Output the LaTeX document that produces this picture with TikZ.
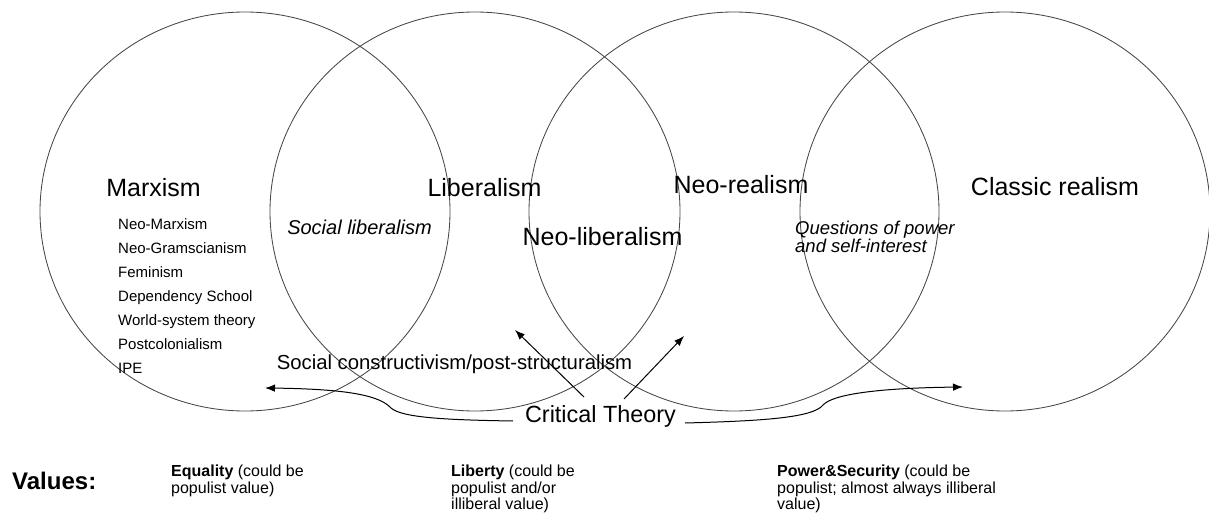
\documentclass[tikz,border=0pt]{standalone}
\usepackage{fontspec}
\setmainfont{Liberation Sans}
\usetikzlibrary{arrows.meta}
\begin{document}
\begin{tikzpicture}[x=1pt,y=-1pt,
  ring/.style={draw=black!72, line width=0.85pt},
  title/.style={font=\fontsize{25}{30}\selectfont, inner sep=0pt, anchor=base},
  sub/.style={font=\fontsize{20}{24}\itshape, inner sep=0pt},
  listtext/.style={font=\fontsize{15}{24}\selectfont, inner sep=0pt, align=left, anchor=north west},
  valtext/.style={font=\fontsize{16}{16.8}\selectfont, inner sep=0pt, align=left, anchor=north west},
  arr/.style={draw=black, line width=1pt, -{Latex[length=10pt,width=7.5pt]}}
]
\useasboundingbox (0,0) rectangle (1209,521);
\clip (0,0) rectangle (1209,521);

% circles
\draw[ring] (245,211.5) ellipse [x radius=205pt, y radius=199.5pt];
\draw[ring] (475,211.5) ellipse [x radius=205pt, y radius=199.5pt];
\draw[ring] (734,211.5) ellipse [x radius=205pt, y radius=199.5pt];
\draw[ring] (1005,211.5) ellipse [x radius=205pt, y radius=199.5pt];

% titles
\node[title] (marx) at (153.5,197) {Marxism};
\node[title] (lib) at (484.5,197) {Liberalism};
\node[title] (neoreal) at (741,194) {Neo-realism};
\node[title] (classic) at (1055,196) {Classic realism};
\node[title] (neolib) at (602.5,246) {Neo-liberalism};

\node[sub, anchor=base] (soclib) at (359.5,235) {Social liberalism};
\node[font=\fontsize{18.5}{18}\itshape, inner sep=0pt, align=left, anchor=north west] (quest) at (795,220.5) {Questions of power\\and self-interest};

\node[listtext] (list) at (118,218.3) {Neo-Marxism\\Neo-Gramscianism\\Feminism\\Dependency School\\World-system theory\\Postcolonialism\\IPE};

\node[font=\fontsize{20.3}{24}\selectfont, inner sep=0pt, anchor=base] (constr) at (454.5,369) {Social constructivism/post-structuralism};
\node[font=\fontsize{23.4}{28}\selectfont, inner sep=0pt, anchor=base] (ct) at (600.5,422) {Critical Theory};

% connectors
\coordinate (ls) at (513,421);
\coordinate (le) at (265,388);
\coordinate (rs) at (685,423);
\coordinate (re) at (963,387);
\coordinate (a1s) at (584,397);
\coordinate (a1e) at (515,330);
\coordinate (a2s) at (624,399);
\coordinate (a2e) at (684,336);

\draw[arr] (ls) .. controls (450,420) and (402,418) .. (391,408) .. controls (380,396) and (350,389) .. (le);
\draw[arr] (rs) .. controls (760,421) and (813,418) .. (823,405) .. controls (833,394) and (880,388) .. (re);
\draw[arr] (a1s) -- (a1e);
\draw[arr] (a2s) -- (a2e);

% values
\node[font=\fontsize{24}{28}\bfseries, inner sep=0pt, anchor=base west] (values) at (12,489) {Values:};
\node[valtext] (v1) at (171,464.5) {\textbf{Equality} (could be\\populist value)};
\node[valtext] (v2) at (451,464.5) {\textbf{Liberty} (could be\\populist and/or\\illiberal value)};
\node[valtext] (v3) at (777,464.5) {\textbf{Power\&Security} (could be\\populist; almost always illiberal\\value)};
\end{tikzpicture}
\end{document}
